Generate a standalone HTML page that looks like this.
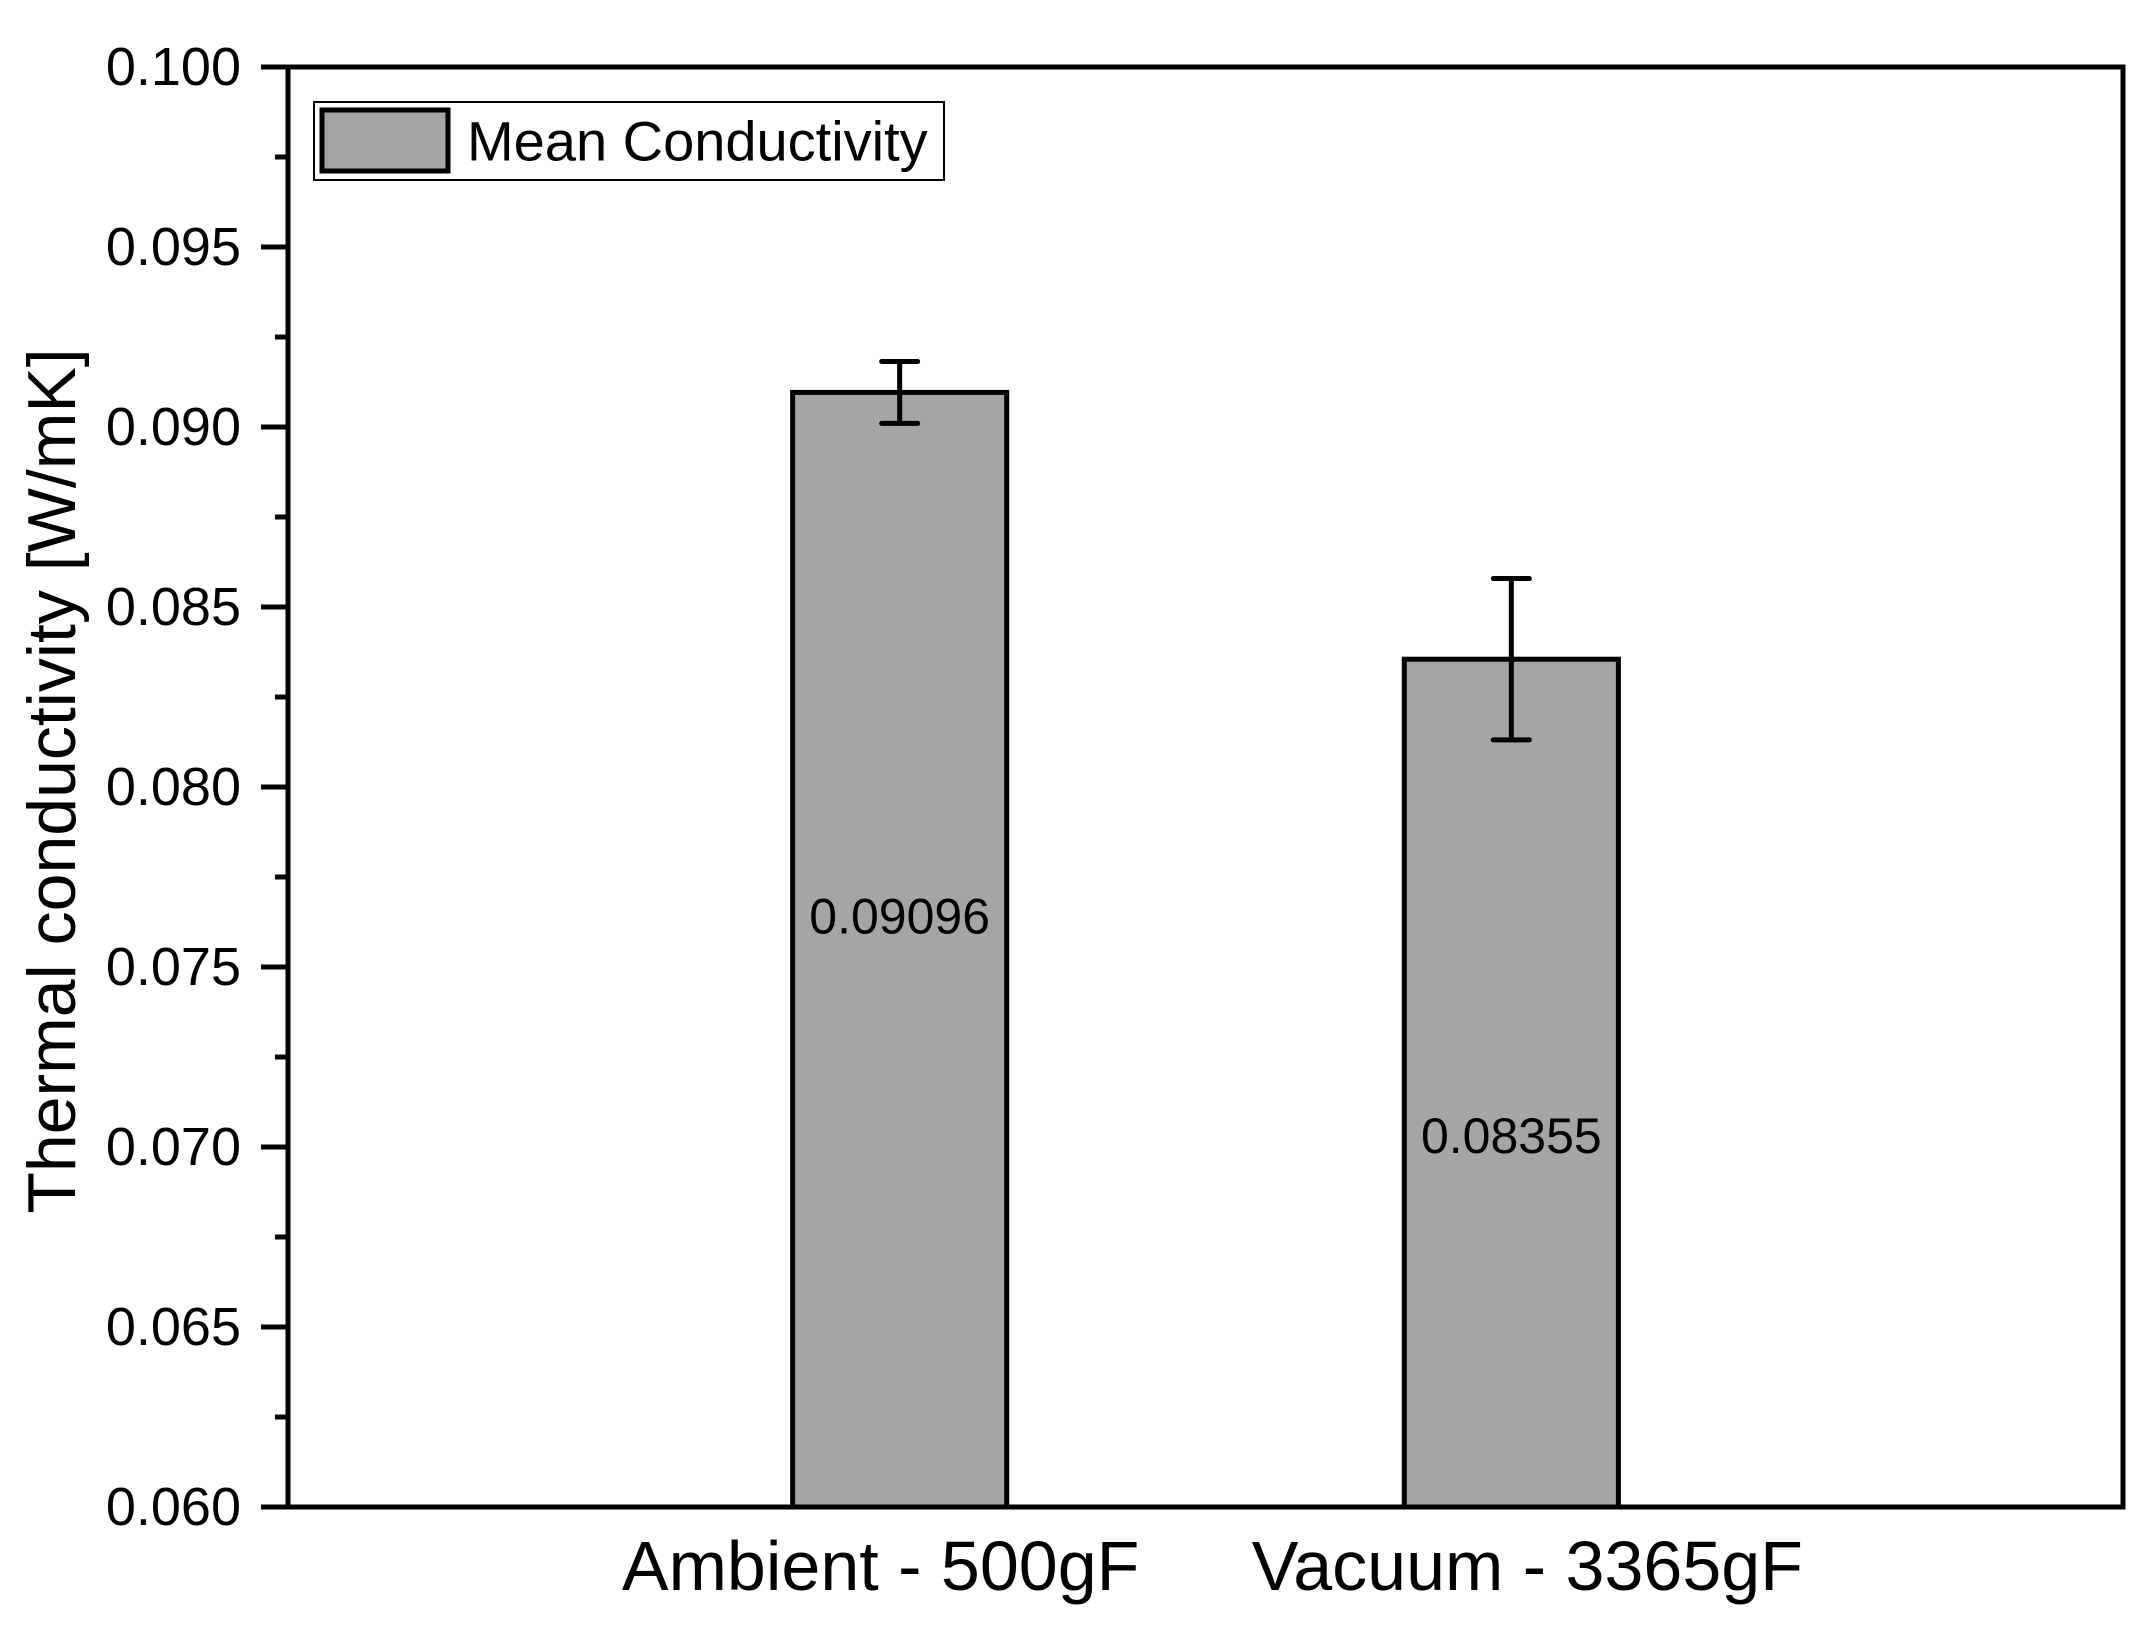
<!DOCTYPE html>
<html><head><meta charset="utf-8"><style>
html,body{margin:0;padding:0;background:#fff;}
svg{display:block;font-family:"Liberation Sans",Arial,sans-serif;}
</style></head><body>
<svg id="chart" width="2152" height="1631" viewBox="0 0 2152 1631" xmlns="http://www.w3.org/2000/svg"></svg>
<script>
const categories = ["Ambient - 500gF", "Vacuum - 3365gF"];
const meanValues = [0.09096, 0.08355];
const errValues = [0.00086, 0.00224];
const valueLabels = ["0.09096", "0.08355"];
const labelValues = [0.0764, 0.0703];
const yTicks = [0.060, 0.065, 0.070, 0.075, 0.080, 0.085, 0.090, 0.095, 0.100];
const yTickLabels = ["0.060","0.065","0.070","0.075","0.080","0.085","0.090","0.095","0.100"];

const NS = "http://www.w3.org/2000/svg";
const svg = document.getElementById('chart');
const L = 288, R = 2123, T = 67, B = 1507;
const yMin = 0.06, yMax = 0.1, xMin = 0, xMax = 3;
const xLabelShift = [-19, 16];
function yS(v){ return B - (v - yMin) / (yMax - yMin) * (B - T); }
function xS(i){ return L + (i + 1 - xMin) / (xMax - xMin) * (R - L); }
const bw = 0.35 * (R - L) / 3;
function mk(tag, attrs, parent){
  const e = document.createElementNS(NS, tag);
  for (const k in attrs) e.setAttribute(k, attrs[k]);
  (parent || svg).appendChild(e);
  return e;
}

// bars
categories.forEach((c, i) => {
  const cx = xS(i), top = yS(meanValues[i]);
  const r = mk('rect', {x: cx - bw/2, y: top, width: bw, height: B - top, fill: '#a5a5a5', stroke: '#000', 'stroke-width': 5});
  
  
  const eg = mk('g', {stroke: '#000', 'stroke-width': 5, 'stroke-linecap': 'round'});
  
  
  const yt = yS(meanValues[i] + errValues[i]), yb = yS(meanValues[i] - errValues[i]);
  mk('line', {x1: cx, x2: cx, y1: yt, y2: yb}, eg);
  mk('line', {x1: cx - 18, x2: cx + 18, y1: yt, y2: yt}, eg);
  mk('line', {x1: cx - 18, x2: cx + 18, y1: yb, y2: yb}, eg);
  const t = mk('text', {x: cx, y: yS(labelValues[i]), 'font-size': 50, 'text-anchor': 'middle', 'dominant-baseline': 'central', fill: '#000'});
  t.textContent = valueLabels[i];
  
  
  const xl = mk('text', {x: cx + xLabelShift[i], y: 1590, 'font-size': 70, 'text-anchor': 'middle', fill: '#000'});
  xl.textContent = c;
  
  
});

// y ticks
yTicks.forEach((v, i) => {
  const y = yS(v);
  mk('line', {x1: 261, x2: L, y1: y, y2: y, stroke: '#000', 'stroke-width': 5});
  const t = mk('text', {x: 241, y: y, 'font-size': 54, 'text-anchor': 'end', 'dominant-baseline': 'central', fill: '#000'});
  t.textContent = yTickLabels[i];
  
  
  if (i < yTicks.length - 1) {
    const ym = yS((v + yTicks[i+1]) / 2);
    mk('line', {x1: 275, x2: L, y1: ym, y2: ym, stroke: '#000', 'stroke-width': 5});
  }
});

// frame
const fr = mk('rect', {x: L, y: T, width: R - L, height: B - T, fill: 'none', stroke: '#000', 'stroke-width': 5});



// y title
const yt = mk('text', {x: 0, y: 0, 'font-size': 68, 'text-anchor': 'middle', 'dominant-baseline': 'central', fill: '#000', transform: 'translate(52,' + ((T + B) / 2 - 6) + ') rotate(-90)'});
yt.textContent = 'Thermal conductivity [W/mK]';



// legend
const lg = mk('g', {});


mk('rect', {x: 314, y: 102, width: 630, height: 78, fill: '#fff', stroke: '#000', 'stroke-width': 2}, lg);
mk('rect', {x: 322, y: 110, width: 126, height: 61, fill: '#a5a5a5', stroke: '#000', 'stroke-width': 5}, lg);
const lt = mk('text', {x: 467, y: 141, 'font-size': 56, 'dominant-baseline': 'central', fill: '#000'}, lg);
lt.textContent = 'Mean Conductivity';


</script>
</body></html>
